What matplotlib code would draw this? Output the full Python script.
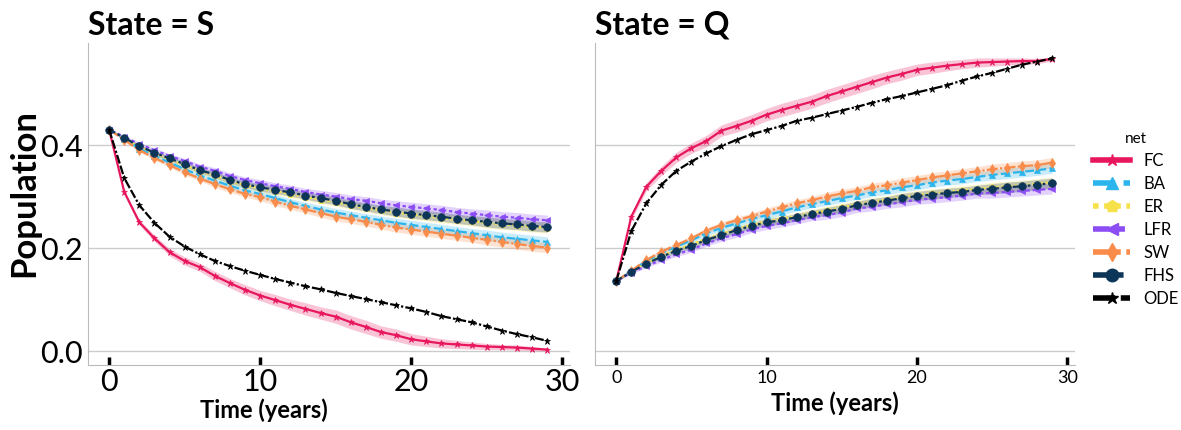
import numpy as np
import matplotlib
matplotlib.use("Agg")
import matplotlib.pyplot as plt
from matplotlib.lines import Line2D

plt.rcParams['font.family'] = ['Lato', 'DejaVu Sans']

# time axis (years)
t = list(range(30))

# State = S
fc_s = [0.430, 0.309, 0.250, 0.219, 0.192, 0.175, 0.163, 0.146, 0.132, 0.119,
        0.108, 0.099, 0.090, 0.082, 0.074, 0.067, 0.056, 0.047, 0.037, 0.031,
        0.023, 0.019, 0.015, 0.013, 0.011, 0.009, 0.008, 0.007, 0.005, 0.003]
ba_s = [0.430, 0.412, 0.393, 0.379, 0.366, 0.353, 0.341, 0.331, 0.321, 0.312,
        0.305, 0.297, 0.289, 0.282, 0.275, 0.269, 0.264, 0.259, 0.254, 0.249,
        0.245, 0.241, 0.237, 0.233, 0.229, 0.225, 0.221, 0.218, 0.215, 0.212]
er_s = [0.430, 0.413, 0.397, 0.384, 0.372, 0.361, 0.349, 0.341, 0.330, 0.322,
        0.316, 0.310, 0.305, 0.299, 0.294, 0.289, 0.283, 0.278, 0.273, 0.269,
        0.265, 0.262, 0.258, 0.255, 0.252, 0.249, 0.246, 0.244, 0.241, 0.239]
lfr_s = [0.430, 0.416, 0.402, 0.390, 0.379, 0.369, 0.358, 0.350, 0.340, 0.332,
         0.326, 0.320, 0.315, 0.309, 0.304, 0.300, 0.295, 0.292, 0.287, 0.283,
         0.280, 0.277, 0.274, 0.270, 0.267, 0.264, 0.261, 0.259, 0.256, 0.254]
sw_s = [0.430, 0.410, 0.390, 0.375, 0.361, 0.347, 0.335, 0.324, 0.314, 0.305,
        0.299, 0.290, 0.282, 0.275, 0.268, 0.261, 0.256, 0.251, 0.245, 0.240,
        0.236, 0.232, 0.228, 0.224, 0.220, 0.216, 0.212, 0.208, 0.204, 0.201]
fhs_s = [0.430, 0.414, 0.398, 0.385, 0.374, 0.363, 0.351, 0.343, 0.332, 0.324,
         0.318, 0.313, 0.308, 0.302, 0.297, 0.292, 0.285, 0.280, 0.275, 0.271,
         0.267, 0.264, 0.261, 0.257, 0.254, 0.251, 0.248, 0.246, 0.243, 0.241]
ode_s = [0.430, 0.336, 0.283, 0.249, 0.222, 0.203, 0.188, 0.175, 0.165, 0.156,
         0.148, 0.140, 0.133, 0.126, 0.120, 0.113, 0.107, 0.101, 0.095, 0.089,
         0.083, 0.076, 0.068, 0.062, 0.056, 0.048, 0.040, 0.033, 0.027, 0.020]

# State = Q
fc_q = [0.136, 0.261, 0.319, 0.350, 0.376, 0.394, 0.408, 0.428, 0.437, 0.447,
        0.459, 0.468, 0.476, 0.484, 0.495, 0.504, 0.513, 0.522, 0.531, 0.538,
        0.546, 0.550, 0.554, 0.557, 0.560, 0.561, 0.562, 0.563, 0.563, 0.567]
ba_q = [0.136, 0.156, 0.175, 0.190, 0.203, 0.215, 0.229, 0.239, 0.248, 0.256,
        0.264, 0.271, 0.279, 0.285, 0.291, 0.297, 0.302, 0.308, 0.312, 0.318,
        0.322, 0.327, 0.331, 0.334, 0.338, 0.342, 0.345, 0.348, 0.351, 0.355]
er_q = [0.136, 0.155, 0.171, 0.185, 0.197, 0.207, 0.218, 0.228, 0.237, 0.245,
        0.252, 0.257, 0.262, 0.268, 0.273, 0.279, 0.285, 0.290, 0.294, 0.299,
        0.303, 0.306, 0.309, 0.312, 0.315, 0.318, 0.320, 0.322, 0.325, 0.328]
lfr_q = [0.136, 0.152, 0.165, 0.177, 0.188, 0.197, 0.209, 0.219, 0.227, 0.236,
         0.243, 0.248, 0.254, 0.260, 0.264, 0.269, 0.277, 0.280, 0.285, 0.289,
         0.294, 0.296, 0.299, 0.302, 0.306, 0.307, 0.309, 0.311, 0.313, 0.315]
sw_q = [0.136, 0.156, 0.177, 0.193, 0.206, 0.219, 0.234, 0.245, 0.254, 0.262,
        0.271, 0.279, 0.287, 0.293, 0.300, 0.306, 0.311, 0.318, 0.322, 0.327,
        0.332, 0.337, 0.341, 0.345, 0.349, 0.353, 0.356, 0.359, 0.361, 0.366]
fhs_q = [0.136, 0.154, 0.170, 0.183, 0.195, 0.204, 0.216, 0.225, 0.235, 0.243,
         0.250, 0.254, 0.260, 0.266, 0.271, 0.276, 0.283, 0.288, 0.292, 0.297,
         0.301, 0.304, 0.307, 0.309, 0.313, 0.315, 0.318, 0.320, 0.323, 0.326]
ode_q = [0.136, 0.233, 0.287, 0.323, 0.350, 0.368, 0.384, 0.398, 0.410, 0.421,
         0.429, 0.437, 0.447, 0.453, 0.460, 0.467, 0.474, 0.482, 0.489, 0.495,
         0.502, 0.509, 0.516, 0.525, 0.533, 0.540, 0.548, 0.556, 0.562, 0.568]

# half widths of the shaded bands
fc_s_band = [0.001, 0.004, 0.005, 0.006, 0.007, 0.008, 0.008, 0.009, 0.009, 0.010,
             0.010, 0.011, 0.011, 0.012, 0.012, 0.013, 0.013, 0.013, 0.012, 0.012,
             0.011, 0.010, 0.009, 0.008, 0.007, 0.006, 0.005, 0.005, 0.004, 0.003]
fc_q_band = [0.001, 0.006, 0.008, 0.009, 0.010, 0.010, 0.011, 0.011, 0.012, 0.012,
             0.012, 0.013, 0.013, 0.013, 0.013, 0.013, 0.013, 0.013, 0.012, 0.012,
             0.011, 0.011, 0.010, 0.009, 0.009, 0.008, 0.007, 0.006, 0.005, 0.004]
other_band = [0.001, 0.002, 0.003, 0.004, 0.004, 0.005, 0.005, 0.006, 0.006, 0.006,
              0.007, 0.007, 0.007, 0.007, 0.008, 0.008, 0.008, 0.008, 0.008, 0.009,
              0.009, 0.009, 0.009, 0.009, 0.009, 0.010, 0.010, 0.010, 0.010, 0.010]

nets = ['FC', 'BA', 'ER', 'LFR', 'SW', 'FHS', 'ODE']
colors = ['#E8175D', '#2CB5EC', '#F7E14B', '#8C4DF5', '#F98C4B', '#0D3558', '#000000']
markers = ['*', '^', 'p', '<', 'd', 'o', '*']
dashes = [(None, None), (4, 1.5), (1, 1), (3, 1.25, 1.5, 1.25), (5, 1, 1, 1),
          (3, 1.25, 1.25, 1.25, 1.25, 1.25), (4, 1, 4, 1, 1, 1)]
msizes = [5, 5, 5, 5, 5, 5.5, 5]

s_data = [fc_s, ba_s, er_s, lfr_s, sw_s, fhs_s, ode_s]
q_data = [fc_q, ba_q, er_q, lfr_q, sw_q, fhs_q, ode_q]
s_bands = [fc_s_band, other_band, other_band, other_band, other_band, other_band, None]
q_bands = [fc_q_band, other_band, other_band, other_band, other_band, other_band, None]

fig = plt.figure(figsize=(11.81, 4.30), dpi=100)
ax1 = fig.add_axes([0.0745, 0.151, 0.408, 0.749])
ax2 = fig.add_axes([0.504, 0.151, 0.406, 0.749], sharey=ax1)


def draw(ax, data, bands):
    tt = np.array(t)
    for i in range(len(nets)):
        y = np.array(data[i])
        if bands[i] is not None:
            b = np.array(bands[i])
            ax.fill_between(tt, y - b, y + b, color=colors[i], alpha=0.25, lw=0)
    for i in range(len(nets)):
        line, = ax.plot(tt, data[i], color=colors[i], marker=markers[i],
                        markersize=msizes[i], lw=1.6, markeredgewidth=0.5)
        if dashes[i][0] is not None:
            line.set_dashes(dashes[i])
    ax.set_xlim(-1.4, 30.5)
    ax.set_ylim(-0.027, 0.598)
    ax.set_xticks([0, 10, 20, 30])
    ax.set_yticks([0.0, 0.2, 0.4])
    ax.grid(axis='y', color='#cccccc', lw=1)
    ax.set_axisbelow(True)
    for s in ['top', 'right']:
        ax.spines[s].set_visible(False)
    for s in ['left', 'bottom']:
        ax.spines[s].set_color('#bbbbbb')
    ax.tick_params(axis='x', direction='in', length=6, width=2.5, color='black')
    ax.tick_params(axis='y', length=0)
    ax.set_xlabel('Time (years)', fontsize=17, fontweight='bold', labelpad=4)


draw(ax1, s_data, s_bands)
draw(ax2, q_data, q_bands)

ax1.tick_params(axis='both', labelsize=22)
ax1.tick_params(axis='x', pad=2)
ax2.tick_params(axis='x', labelsize=13)
ax2.tick_params(axis='y', labelleft=False)
ax1.set_ylabel('Population', fontsize=25, fontweight='bold')
ax1.yaxis.set_label_coords(-0.1, 0.534)
ax1.xaxis.set_label_coords(0.365, -0.105)
ax1.set_title('State = S', fontsize=23, fontweight='bold', loc='left', pad=6)
ax2.set_title('State = Q', fontsize=23, fontweight='bold', loc='left', pad=6)

handles = []
for i in range(len(nets)):
    h = Line2D([], [], color=colors[i], marker=markers[i], markersize=9, lw=4)
    if dashes[i][0] is not None:
        h.set_dashes(dashes[i])
    handles.append(h)
leg = fig.legend(handles, nets, title='net', loc='center left',
                 bbox_to_anchor=(0.913, 0.49), frameon=False, fontsize=12,
                 title_fontsize=11, handlelength=2.2, labelspacing=0.42)

fig.savefig('out.png', dpi=100)
